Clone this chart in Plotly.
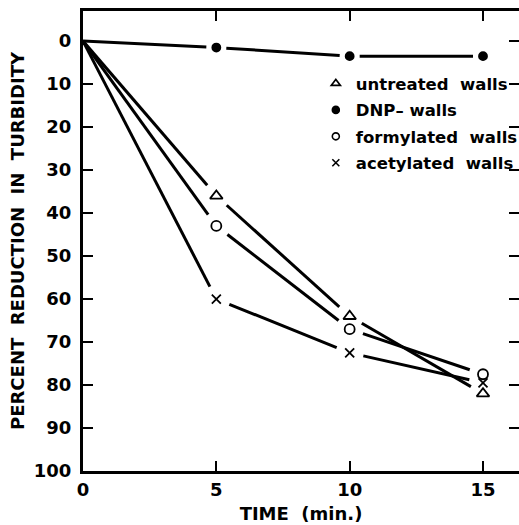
import plotly.graph_objects as go
import math

time_min = [0, 5, 10, 15]
untreated = [0, 36, 64, 82]
dnp = [0, 1.5, 3.5, 3.5]
formylated = [0, 43, 67, 77.5]
acetylated = [0, 60, 72.5, 79.5]

series_names = ["untreated  walls", "DNP\u2013 walls", "formylated  walls", "acetylated  walls"]
series_vals = [untreated, dnp, formylated, acetylated]
series_symbols = ["triangle-up-open", "circle", "circle-open", "x-thin"]
series_sizes = [11, 8, 10, 9]
legend_sizes = [8, 7, 7, 7]

y_ticks = list(range(0, 101, 10))
x_ticks = [0, 5, 10, 15]

# layout geometry
W, H = 519, 525
ML, MR, MT, MB = 83, 0, 11, 54
X_RANGE = [0, 16.35]
Y_RANGE = [100, -7]
PX_X = (W - ML - MR) / (X_RANGE[1] - X_RANGE[0])
PX_Y = (H - MT - MB) / abs(Y_RANGE[0] - Y_RANGE[1])
GAP = 14  # px gap around markers


def broken_line(xs, ys, gap):
    """Segments between consecutive points, shortened near marked points."""
    out_x, out_y = [], []
    for i in range(len(xs) - 1):
        x0, y0, x1, y1 = xs[i], ys[i], xs[i + 1], ys[i + 1]
        dxp, dyp = (x1 - x0) * PX_X, (y1 - y0) * PX_Y
        d = math.hypot(dxp, dyp)
        f0 = gap / d if i > 0 else 0.0
        f1 = gap / d
        out_x += [x0 + (x1 - x0) * f0, x0 + (x1 - x0) * (1 - f1), None]
        out_y += [y0 + (y1 - y0) * f0, y0 + (y1 - y0) * (1 - f1), None]
    return out_x, out_y


FONT = "DejaVu Sans"
fig = go.Figure()

for vals, name in zip(series_vals, series_names):
    g = GAP - 4 if name.startswith("DNP") else GAP
    lx, ly = broken_line(time_min, vals, g)
    fig.add_trace(go.Scatter(x=lx, y=ly, mode="lines",
                             line=dict(color="black", width=3), showlegend=False,
                             hoverinfo="skip"))

for vals, sym, sz in zip(series_vals, series_symbols, series_sizes):
    fig.add_trace(go.Scatter(x=time_min[1:], y=vals[1:], mode="markers",
                             marker=dict(symbol=sym, size=sz, color="black",
                                         line=dict(color="black", width=1.8)),
                             showlegend=False))

# legend entries (smaller symbols as in the original key)
for i, (name, sym, sz) in enumerate(zip(series_names, series_symbols, legend_sizes)):
    fig.add_trace(go.Scatter(x=[None], y=[None], mode="markers", name=name,
                             legendgroup=f"g{i}",
                             marker=dict(symbol=sym, size=sz, color="black",
                                         line=dict(color="black", width=1.6))))

# dummy trace for right-side tick axis
fig.add_trace(go.Scatter(x=[None], y=[None], yaxis="y2", showlegend=False))

fig.update_layout(
    width=W, height=H,
    margin=dict(l=ML, r=MR, t=MT, b=MB, autoexpand=False),
    plot_bgcolor="white", paper_bgcolor="white",
    font=dict(family=FONT, color="black"),
    xaxis=dict(range=X_RANGE, tickvals=x_ticks, ticktext=[str(v) for v in x_ticks],
               ticks="inside", ticklen=10, tickwidth=2, tickcolor="black",
               showline=True, linewidth=3, linecolor="black", mirror="ticks",
               showgrid=False, zeroline=False,
               tickfont=dict(size=18, family=FONT, weight="bold"),
               title=dict(text="TIME  (min.)", font=dict(size=18, family=FONT, weight="bold"),
                          standoff=9)),
    yaxis=dict(range=Y_RANGE, tickvals=y_ticks, ticktext=[str(v) for v in y_ticks],
               ticks="inside", ticklen=10, tickwidth=2, tickcolor="black",
               showline=True, linewidth=3, linecolor="black", mirror=False,
               showgrid=False, zeroline=False, ticklabelstandoff=5,
               tickfont=dict(size=18, family=FONT, weight="bold"),
               title=dict(text="PERCENT  REDUCTION  IN  TURBIDITY",
                          font=dict(size=18, family=FONT, weight="bold"), standoff=5)),
    yaxis2=dict(range=Y_RANGE, overlaying="y", side="right", tickvals=y_ticks[:-1],
                ticks="inside", ticklen=10, tickwidth=2, tickcolor="black",
                showline=False, showticklabels=False, showgrid=False, zeroline=False),
    legend=dict(x=0.534, y=0.880, xanchor="left", yanchor="top",
                bgcolor="rgba(0,0,0,0)", borderwidth=0, tracegroupgap=2,
                traceorder="grouped",
                font=dict(size=16.5, family=FONT, weight="bold"), itemwidth=30),
    showlegend=True,
)

fig.write_html("out.html")
